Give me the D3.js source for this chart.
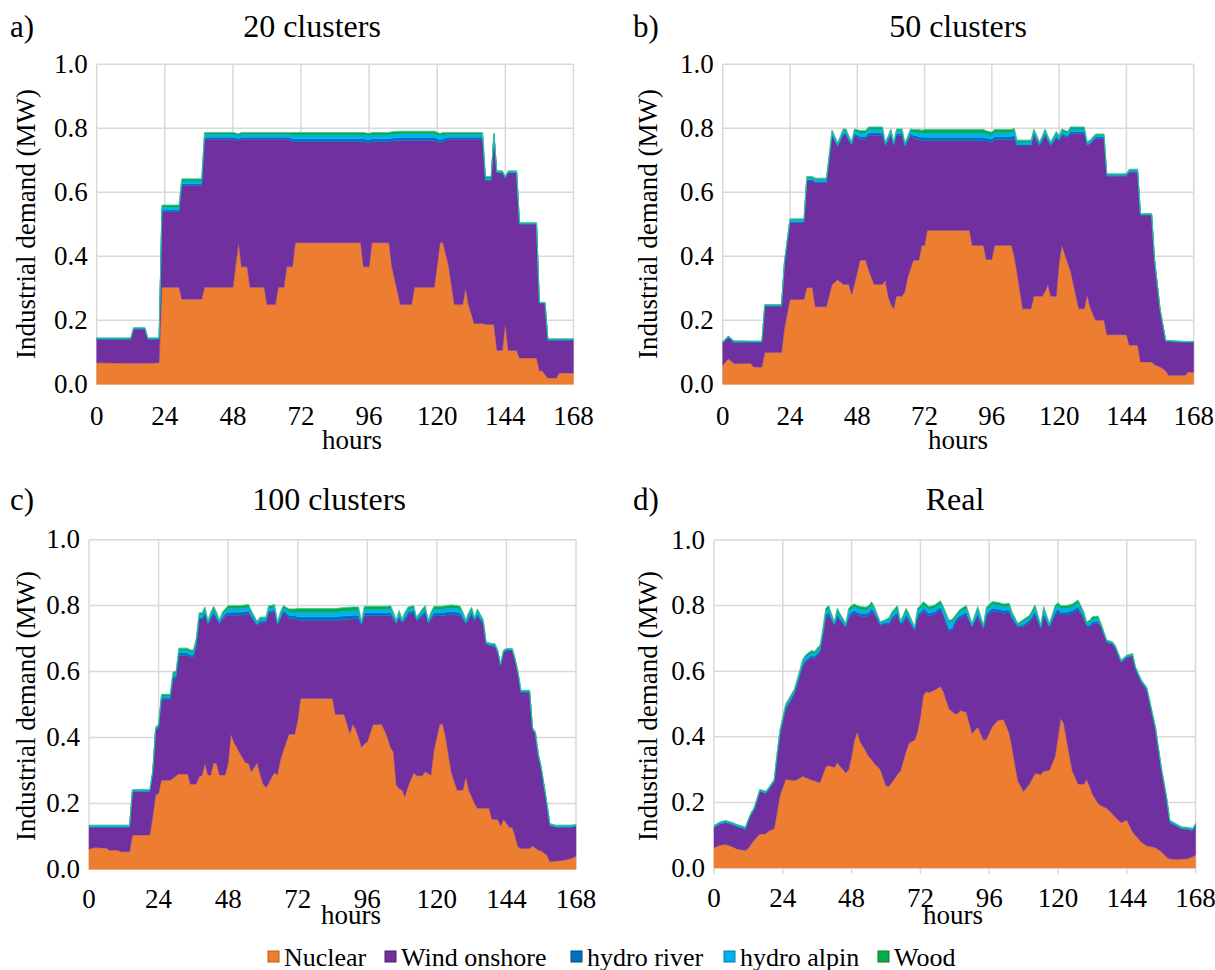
<!DOCTYPE html>
<html><head><meta charset="utf-8">
<script src="https://cdn.jsdelivr.net/npm/d3@7"></script>
</head>
<body style="margin:0">
<svg id="chart" width="1215" height="970"></svg>
<script>
// ---------------- DATA ----------------
const seriesNames = ["Nuclear","Wind onshore","hydro river","hydro alpin","Wood"];
const xTickValues = [0,24,48,72,96,120,144,168];
const yTickValues = [0,0.2,0.4,0.6,0.8,1.0];
const panelLetters = ["a)","b)","c)","d)"];
const panelTitles = ["20 clusters","50 clusters","100 clusters","Real"];

// a) 20 clusters
const hoursA = [0,12,13,17,18,22,23,29,30,37,38,48,50,51,53,54,59,60,63,64,66,67,68,69,70,93,94,96,97,103,104,107,111,112,119,121,122,124,126,129,130,131,133,136,137,139,140,141,143,144,145,148,149,155,156,157,158,159,162,163,168];
const nuclearA = [.067,.066,.066,.066,.066,.067,.303,.303,.266,.266,
 .303,.303,.442,.367,.367,.303,.303,.249,.249,.303,
 .303,.367,.367,.367,.442,.442,.367,.367,.442,.442,
 .367,.249,.249,.303,.303,.442,.442,.37,.249,.249,
 .300,.249,.19,.19,.187,.187,.187,.106,.106,.19,
 .106,.106,.082,.082,.042,.042,.03,.02,.02,.035,
 .035];
const windA = [.073,.074,.106,.106,.074,.073,.236,.236,.355,.355,
 .463,.463,.320,.399,.399,.463,.463,.517,.517,.463,
 .463,.399,.399,.391,.316,.316,.391,.388,.316,.316,
 .393,.513,.513,.459,.459,.313,.316,.396,.517,.517,
 .466,.517,.576,.576,.450,.450,.593,.554,.554,.453,
 .554,.554,.418,.418,.211,.211,.223,.117,.117,.102,
 .102];
const riverA = [.002,.002,.002,.002,.002,.002,
 .006,.006,.006,.006,
 .006,.006,.006,.006,.006,.006,.006,.006,.006,.006,.006,.006,.006,
 .009,.009,.009,.009,.009,.009,.009,.009,.009,.009,.009,.009,.009,.009,
 .006,.006,.006,.006,.006,.006,.006,
 .003,.003,.001,.002,.002,.002,.002,.002,.002,.002,
 .001,.001,.001,.002,.002,.002,.002];
const alpinA = [.002,.002,.002,.002,.002,.002,
 .008,.008,.008,.008,
 .009,.009,.009,.009,.009,.009,.009,.009,.009,.009,.009,.009,.009,
 .012,.012,.012,.012,.012,.012,.012,.012,.012,.012,.012,.012,.012,.012,
 .009,.009,.009,.009,.009,.009,.009,
 .005,.005,.002,.003,.003,.003,.003,.003,.002,.002,
 .001,.001,.001,.002,.002,.002,.002];
const woodA = [.001,.001,.001,.001,.001,.001,
 .007,.007,.007,.007,
 .006,.006,.006,.006,.006,.006,.006,.006,.006,.006,.006,.006,.006,
 .008,.008,.008,.008,.008,.008,.008,.008,.008,.008,.008,.008,.008,.008,
 .006,.006,.006,.006,.006,.006,.006,
 .004,.004,.001,.002,.002,.002,.002,.002,.001,.001,
 .001,.001,.001,.001,.001,.001,.001];

// b) 50 clusters
const hoursB = [0,2,4,10,11,14,15,21,22,24,
 29,30,32,33,37,39,41,43,44,45,
 46,47,49,51,52,54,57,58,59,60,
 61,62,64,65,66,67,68,70,71,72,
 73,88,89,93,94,96,97,103,104,105,
 107,110,111,113,114,115,116,117,119,120,
 121,123,124,127,129,130,131,132,133,136,
 137,144,145,148,149,153,154,156,158,159,
 165,166,168];
const nuclearB = [.059,.080,.065,.065,.054,.054,.099,.099,.174,.265,
 .265,.302,.302,.242,.242,.311,.327,.312,.312,.312,
 .28,.312,.388,.388,.358,.312,.312,.325,.275,.25,
 .236,.275,.275,.29,.335,.36,.388,.388,.434,.434,
 .481,.481,.434,.434,.39,.39,.434,.434,.40,.346,
 .236,.236,.275,.275,.275,.29,.311,.275,.275,.38,
 .434,.38,.356,.236,.236,.278,.242,.22,.20,.20,
 .155,.155,.122,.122,.07,.07,.061,.054,.042,.028,
 .028,.038,.038];
const windB = [.069,.066,.066,.065,.076,.076,.144,.144,.199,.240,
 .240,.333,.333,.388,.388,.464,.415,.466,.466,.448,
 .466,.466,.378,.378,.420,.466,.466,.420,.485,.528,
 .509,.503,.503,.452,.425,.418,.382,.376,.328,.327,
 .280,.280,.327,.327,.370,.366,.330,.330,.370,.399,
 .509,.509,.503,.470,.485,.488,.449,.470,.495,.380,
 .344,.390,.428,.548,.548,.467,.508,.540,.569,.569,
 .495,.495,.541,.541,.458,.458,.328,.178,.092,.105,
 .102,.092,.092];
const riverB = [.002,.002,.002,.002,.002,.002,.002,.002,.003,.004,
 .004,.004,.004,.004,.004,.006,.004,.006,.006,.005,
 .004,.006,.008,.008,.008,.008,.008,.004,.005,.006,
 .004,.006,.006,.004,.005,.006,.008,.010,.010,.011,
 .011,.011,.011,.011,.010,.010,.010,.010,.009,.005,
 .005,.005,.006,.004,.005,.006,.005,.004,.006,.005,
 .006,.006,.006,.006,.006,.004,.004,.004,.004,.004,
 .003,.003,.003,.003,.002,.002,.002,.002,.002,.002,
 .002,.002,.002];
const alpinB = [.002,.002,.002,.002,.002,.002,.002,.002,.004,.005,
 .005,.006,.006,.006,.006,.008,.005,.008,.008,.006,
 .005,.008,.011,.011,.010,.010,.010,.005,.006,.008,
 .005,.008,.008,.005,.006,.008,.010,.012,.012,.013,
 .013,.013,.013,.013,.012,.012,.012,.012,.012,.007,
 .007,.007,.008,.005,.006,.008,.006,.005,.008,.007,
 .008,.008,.008,.008,.008,.005,.005,.005,.005,.005,
 .003,.003,.003,.003,.002,.002,.001,.001,.001,.001,
 .001,.001,.001];
const woodB = [.001,.001,.001,.001,.001,.001,.002,.002,.002,.003,
 .003,.004,.004,.004,.004,.006,.004,.006,.006,.005,
 .004,.006,.008,.008,.008,.008,.008,.004,.005,.006,
 .004,.006,.006,.004,.005,.006,.008,.010,.010,.011,
 .011,.011,.011,.011,.010,.010,.010,.010,.009,.006,
 .006,.006,.006,.004,.005,.006,.005,.004,.006,.005,
 .006,.006,.006,.006,.006,.004,.004,.004,.004,.004,
 .002,.002,.003,.003,.001,.001,.001,.001,.001,.001,
 .001,.001,.001];

// c) 100 clusters
const hoursC = [0,2,6,7,10,11,14,15,21,22,
 23,24,25,28,29,30,31,34,35,36,
 37,38,39,40,41,42,43,44,45,46,
 47,48,49,50,51,52,54,55,56,58,
 59,60,61,62,63,64,65,66,67,68,
 69,70,71,72,73,84,85,88,90,91,
 92,93,94,95,96,98,101,103,104,105,
 106,107,108,109,110,112,113,115,116,117,
 118,119,121,122,123,125,127,128,129,130,
 131,132,133,134,136,137,138,139,140,141,
 142,143,144,145,146,147,148,149,152,153,
 154,155,156,158,159,161,163,165,166,167,
 168];
const nuclearC = [.061,.066,.064,.058,.058,.053,.053,.104,.104,.16,
 .225,.23,.27,.27,.276,.283,.289,.289,.258,.258,
 .258,.281,.285,.321,.286,.286,.323,.32,.286,.286,
 .286,.321,.41,.385,.37,.353,.323,.322,.296,.323,
 .29,.26,.248,.26,.279,.293,.286,.33,.36,.385,
 .41,.41,.41,.452,.518,.518,.47,.47,.412,.44,
 .425,.40,.37,.38,.387,.439,.439,.40,.37,.356,
 .255,.245,.24,.22,.25,.293,.284,.284,.296,.29,
 .286,.362,.44,.44,.402,.293,.24,.24,.24,.281,
 .24,.22,.20,.185,.185,.185,.185,.151,.151,.151,
 .131,.151,.14,.127,.127,.10,.068,.063,.063,.07,
 .065,.058,.056,.043,.023,.025,.026,.03,.032,.035,
 .04];
const windC = [.066,.061,.063,.069,.069,.074,.074,.131,.131,.13,
 .197,.20,.245,.245,.304,.297,.360,.360,.385,.385,
 .420,.475,.471,.453,.457,.472,.453,.438,.459,.472,
 .482,.450,.361,.386,.401,.418,.450,.453,.467,.417,
 .459,.489,.501,.518,.499,.489,.454,.428,.418,.388,
 .351,.351,.351,.303,.237,.237,.285,.288,.347,.320,
 .335,.360,.370,.389,.382,.330,.330,.369,.401,.402,
 .490,.518,.508,.538,.523,.485,.469,.484,.482,.455,
 .472,.407,.329,.329,.369,.480,.531,.529,.518,.464,
 .518,.553,.553,.583,.560,.497,.494,.526,.526,.506,
 .485,.506,.522,.535,.535,.532,.524,.472,.472,.353,
 .345,.285,.248,.150,.109,.102,.101,.097,.095,.093,
 .089];
const riverC = [.002,.002,.002,.002,.002,.002,.002,.002,.002,.003,
 .003,.003,.005,.005,.006,.006,.007,.007,.007,.007,
 .007,.007,.007,.007,.004,.007,.007,.007,.004,.007,
 .007,.009,.009,.009,.009,.009,.009,.009,.007,.004,
 .005,.005,.005,.007,.007,.007,.004,.007,.007,.007,
 .009,.009,.009,.011,.011,.011,.011,.011,.011,.011,
 .011,.011,.004,.009,.009,.009,.009,.009,.009,.007,
 .004,.007,.004,.007,.007,.007,.004,.007,.007,.004,
 .007,.009,.009,.009,.009,.009,.009,.009,.007,.004,
 .007,.007,.004,.007,.004,.003,.003,.003,.003,.003,
 .003,.003,.003,.003,.003,.003,.003,.003,.003,.002,
 .002,.002,.002,.002,.002,.002,.002,.002,.002,.002,
 .002];
const alpinC = [.003,.003,.003,.003,.003,.003,.003,.003,.003,.004,
 .004,.004,.006,.006,.007,.007,.008,.008,.008,.008,
 .008,.008,.008,.008,.005,.008,.008,.008,.005,.008,
 .008,.011,.011,.011,.011,.011,.011,.011,.008,.005,
 .006,.006,.006,.008,.008,.008,.005,.008,.008,.008,
 .011,.011,.011,.014,.014,.014,.014,.014,.014,.014,
 .014,.014,.005,.011,.011,.011,.011,.011,.011,.008,
 .005,.008,.005,.008,.008,.008,.005,.008,.008,.005,
 .008,.011,.011,.011,.011,.011,.011,.011,.008,.005,
 .008,.008,.005,.008,.005,.003,.003,.003,.003,.003,
 .003,.003,.003,.003,.003,.003,.003,.003,.003,.003,
 .003,.003,.003,.003,.003,.003,.003,.003,.003,.003,
 .003];
const woodC = [.002,.002,.002,.002,.002,.002,.002,.002,.002,.003,
 .003,.003,.005,.005,.006,.006,.007,.007,.007,.007,
 .007,.007,.007,.007,.003,.007,.007,.007,.003,.007,
 .007,.009,.009,.009,.009,.009,.009,.009,.007,.003,
 .005,.005,.005,.007,.007,.007,.003,.007,.007,.007,
 .009,.009,.009,.011,.011,.011,.011,.011,.011,.011,
 .011,.011,.003,.009,.009,.009,.009,.009,.009,.007,
 .003,.007,.003,.007,.007,.007,.003,.007,.007,.003,
 .007,.009,.009,.009,.009,.009,.009,.009,.007,.003,
 .007,.007,.003,.007,.003,.002,.002,.002,.002,.002,
 .002,.002,.002,.002,.002,.002,.002,.002,.002,.002,
 .002,.002,.002,.002,.002,.002,.002,.002,.002,.002,
 .002];

// d) Real
const hoursD = [0,2,4,6,8,11,12,13,14,16,
 18,19,21,22,23,25,27,28,29,31,
 32,34,35,37,38,39,40,42,43,44,
 46,47,48,49,50,51,53,54,55,56,
 58,60,61,62,64,65,66,67,68,70,
 71,72,73,74,75,77,79,80,82,83,
 84,85,86,88,90,92,94,95,97,99,
 101,103,104,106,108,110,112,114,115,117,
 119,120,121,122,123,125,127,129,130,131,
 132,134,135,137,139,140,142,144,146,147,
 149,151,153,154,156,158,159,161,163,165,
 167,168];
const nuclearD = [.062,.069,.072,.066,.058,.053,.060,.073,.085,.104,
 .104,.112,.12,.17,.22,.27,.268,.266,.27,.28,
 .276,.268,.266,.26,.285,.309,.312,.307,.321,.31,
 .29,.30,.34,.39,.415,.385,.355,.34,.33,.318,
 .30,.25,.249,.26,.285,.295,.325,.355,.38,.39,
 .415,.46,.525,.538,.535,.543,.553,.538,.485,.477,
 .47,.47,.48,.475,.41,.43,.39,.392,.43,.45,
 .453,.41,.365,.265,.233,.255,.288,.285,.295,.298,
 .34,.40,.456,.44,.39,.295,.256,.255,.27,.25,
 .225,.197,.19,.182,.165,.155,.138,.146,.11,.10,
 .079,.067,.064,.062,.05,.032,.028,.026,.027,.028,
 .034,.04];
const windD = [.061,.064,.066,.067,.068,.065,.083,.090,.092,.129,
 .123,.125,.143,.164,.185,.214,.246,.263,.289,.335,
 .352,.373,.372,.398,.423,.454,.459,.432,.442,.443,
 .444,.463,.431,.386,.356,.383,.411,.431,.453,.455,
 .439,.496,.492,.498,.486,.448,.423,.408,.373,.334,
 .348,.311,.258,.238,.233,.230,.233,.230,.236,.247,
 .276,.288,.281,.296,.324,.338,.339,.374,.353,.331,
 .323,.368,.393,.469,.503,.493,.485,.444,.473,.436,
 .431,.380,.315,.331,.381,.481,.532,.504,.468,.483,
 .519,.549,.544,.505,.517,.515,.488,.495,.536,.506,
 .488,.475,.398,.360,.252,.171,.111,.103,.092,.089,
 .080,.089];
const riverD = [.002,.002,.002,.002,.002,.002,.002,.002,.002,.002,
 .002,.002,.002,.005,.005,.005,.005,.005,.005,.007,
 .007,.007,.007,.007,.007,.009,.009,.004,.009,.007,
 .004,.009,.009,.009,.009,.009,.009,.009,.009,.007,
 .004,.004,.007,.007,.009,.004,.007,.009,.007,.004,
 .009,.009,.009,.009,.009,.009,.009,.009,.008,.008,
 .007,.007,.009,.009,.004,.009,.004,.009,.009,.009,
 .009,.009,.007,.004,.007,.007,.009,.004,.009,.004,
 .009,.009,.009,.009,.009,.009,.009,.007,.004,.007,
 .007,.007,.004,.003,.003,.003,.003,.003,.003,.003,
 .003,.003,.003,.003,.003,.002,.002,.002,.002,.002,
 .002,.002];
const alpinD = [.003,.003,.003,.003,.003,.003,.003,.003,.003,.003,
 .003,.003,.003,.006,.006,.006,.006,.006,.006,.008,
 .008,.008,.008,.008,.008,.011,.011,.005,.011,.008,
 .005,.011,.011,.011,.011,.011,.011,.011,.011,.008,
 .005,.005,.008,.008,.011,.005,.008,.011,.008,.005,
 .011,.011,.011,.011,.011,.011,.011,.011,.020,.020,
 .008,.008,.011,.011,.005,.011,.005,.011,.011,.011,
 .011,.011,.008,.005,.008,.008,.011,.005,.011,.005,
 .011,.011,.011,.011,.011,.011,.011,.008,.005,.008,
 .008,.008,.005,.003,.003,.003,.003,.003,.003,.003,
 .003,.003,.003,.003,.003,.003,.003,.003,.003,.003,
 .003,.003];
const woodD = [.002,.002,.002,.002,.002,.002,.002,.002,.002,.002,
 .002,.002,.002,.005,.005,.005,.005,.005,.005,.007,
 .007,.007,.007,.007,.007,.009,.009,.003,.009,.007,
 .003,.009,.009,.009,.009,.009,.009,.009,.009,.007,
 .003,.003,.007,.007,.009,.003,.007,.009,.007,.003,
 .009,.009,.009,.009,.009,.009,.009,.009,.006,.006,
 .007,.007,.009,.009,.003,.009,.003,.009,.009,.009,
 .009,.009,.007,.003,.007,.007,.009,.003,.009,.003,
 .009,.009,.009,.009,.009,.009,.009,.007,.003,.007,
 .007,.007,.003,.002,.002,.002,.002,.002,.002,.002,
 .002,.002,.002,.002,.002,.002,.002,.002,.002,.002,
 .002,.002];

// ---------------- STYLE / LAYOUT ----------------
const FONT = '"Liberation Serif", serif';
const KEYS = ["nuclear","wind","river","alpin","wood"];
const COLORS = ["#ED7D31","#7030A0","#0070C0","#00B0F0","#00B050"];
const LEGEND_STROKE = ["#B95F20","#4B1F6E","#004A80","#0080B0","#2E6B1F"];

const panels = [
 {hours:hoursA, series:[nuclearA,windA,riverA,alpinA,woodA], x0:96.7, x1:573.4, yt:64.3, yb:384.3,
  letterX:10, titleX:312, titleY:37, yTitleX:26, yTitleY:224, hoursX:352, hoursY:449, ticks:false, pad:22},
 {hours:hoursB, series:[nuclearB,windB,riverB,alpinB,woodB], x0:722.7, x1:1193.7, yt:64.3, yb:384.3,
  letterX:633, titleX:958, titleY:37, yTitleX:648, yTitleY:224, hoursX:958, hoursY:449, ticks:false, pad:22},
 {hours:hoursC, series:[nuclearC,windC,riverC,alpinC,woodC], x0:89, x1:576, yt:539.7, yb:869.3,
  letterX:10, titleX:329, titleY:510, yTitleX:26, yTitleY:706, hoursX:351, hoursY:924, ticks:false, pad:20},
 {hours:hoursD, series:[nuclearD,windD,riverD,alpinD,woodD], x0:714, x1:1195.6, yt:540, yb:868,
  letterX:633, titleX:955, titleY:510, yTitleX:648, yTitleY:706, hoursX:953, hoursY:924, ticks:true, pad:20}
];

const svg = d3.select("#chart");

function serifText(parent, size){
  return parent.append("text")
    .style("font-family", FONT)
    .attr("font-size", size);
}

panels.forEach((p,pi)=>{
  const x = d3.scaleLinear().domain([0,168]).range([p.x0,p.x1]);
  const y = d3.scaleLinear().domain([0,1]).range([p.yb,p.yt]);
  const g = svg.append("g");
  const GRID = "#D9D9D9";

  g.append("g").selectAll("line").data(yTickValues).join("line")
    .attr("x1",p.x0).attr("x2",p.x1).attr("y1",d=>y(d)).attr("y2",d=>y(d))
    .attr("stroke",GRID).attr("stroke-width",1.5);
  g.append("g").selectAll("line").data(xTickValues).join("line")
    .attr("x1",d=>x(d)).attr("x2",d=>x(d)).attr("y1",p.yt).attr("y2",p.yb)
    .attr("stroke",GRID).attr("stroke-width",1.5);
  if (p.ticks) {
    g.append("g").selectAll("line").data(xTickValues).join("line")
      .attr("x1",d=>x(d)).attr("x2",d=>x(d)).attr("y1",p.yb).attr("y2",p.yb+6)
      .attr("stroke",GRID).attr("stroke-width",1.5);
  }

  const rows = p.hours.map((h,i)=>{
    const r = {hour:h};
    KEYS.forEach((k,j)=>{ r[k] = p.series[j][i]; });
    return r;
  });
  const stacked = d3.stack().keys(KEYS)(rows);
  const area = d3.area().x(d=>x(d.data.hour)).y0(d=>y(d[0])).y1(d=>y(d[1]));
  g.append("g").selectAll("path").data(stacked).join("path")
    .attr("d",area)
    .attr("fill",(d,i)=>COLORS[i])
    .attr("stroke",(d,i)=>COLORS[i])
    .attr("stroke-width",0.4);
  const topLine = d3.line().x(d=>x(d.data.hour)).y(d=>y(d[1]));
  g.append("path").attr("d",topLine(stacked[stacked.length-1]))
    .attr("fill","none").attr("stroke","#5CC8B4").attr("stroke-width",0.6);

  // y tick labels (own text elements, positioned by the scale)
  yTickValues.forEach(v=>{
    serifText(g,27).attr("x",p.x0-9).attr("y",y(v)).attr("dy","0.32em")
      .attr("text-anchor","end").text(d3.format(".1f")(v));
  });
  // x tick labels
  xTickValues.forEach(v=>{
    serifText(g,27).attr("x",x(v)).attr("y",p.yb+p.pad).attr("dy","0.71em")
      .attr("text-anchor","middle").text(d3.format("d")(v));
  });

  serifText(g,31).attr("x",p.letterX).attr("y",p.titleY).text(panelLetters[pi]);
  serifText(g,32).attr("x",p.titleX).attr("y",p.titleY).attr("text-anchor","middle").text(panelTitles[pi]);
  serifText(g,27).attr("transform",`translate(${p.yTitleX},${p.yTitleY}) rotate(-90)`)
    .attr("text-anchor","middle").attr("dy","0.32em").text("Industrial demand (MW)");
  serifText(g,27).attr("x",p.hoursX).attr("y",p.hoursY).attr("text-anchor","middle").text("hours");
});

const legendX = [268,385,571,724,878];
const lg = svg.append("g");
seriesNames.forEach((nm,i)=>{
  lg.append("rect").attr("x",legendX[i]).attr("y",951).attr("width",11).attr("height",11)
    .attr("fill",COLORS[i]).attr("stroke",LEGEND_STROKE[i]).attr("stroke-width",1);
  serifText(lg,26).attr("x",legendX[i]+16).attr("y",966).text(nm);
});
</script>
</body></html>
